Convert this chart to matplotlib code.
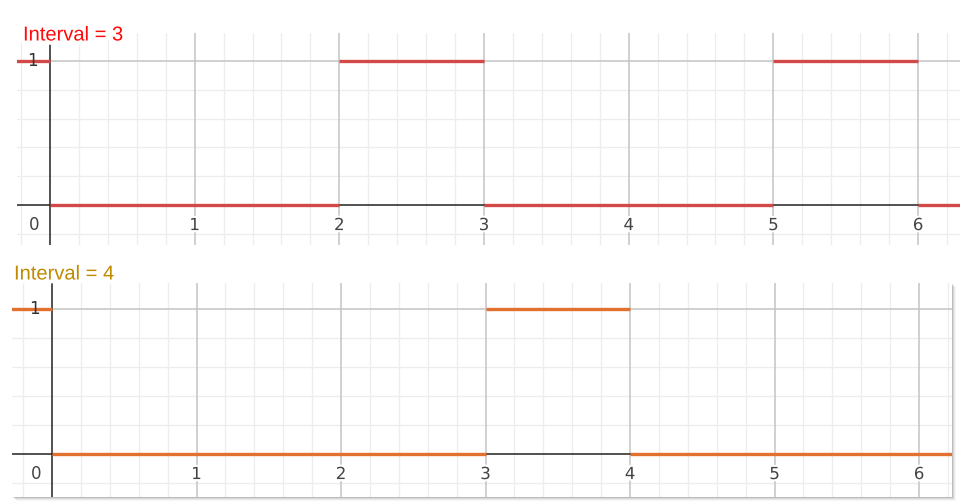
import matplotlib
matplotlib.use("Agg")
import matplotlib.pyplot as plt
import matplotlib.patheffects as pe
from matplotlib.patches import Rectangle
import numpy as np

# Data: step functions (breakpoints and levels)
titles = ["Interval = 3", "Interval = 4"]
top_breaks = [-0.4, 0, 2, 3, 5, 6, 6.6]
top_levels = [1, 0, 1, 0, 1, 0]
bot_breaks = [-0.4, 0, 3, 4, 6.6]
bot_levels = [1, 0, 1, 0]
x_ticks = [1, 2, 3, 4, 5, 6]
y_ticks = [1]

W, H = 960, 503
fig = plt.figure(figsize=(W / 100, H / 100), dpi=100)
fig.patch.set_facecolor("white")

def px_axes(l, t, r, b):
    ax = fig.add_axes([l / W, (H - b) / H, (r - l) / W, (b - t) / H])
    ax.set_zorder(2)
    return ax

def setup(ax, xlim, ylim):
    ax.set_xlim(*xlim)
    ax.set_ylim(*ylim)
    for s in ax.spines.values():
        s.set_visible(False)
    ax.set_xticks([])
    ax.set_yticks([])
    # minor grid
    for v in np.arange(np.floor(xlim[0] / 0.2) * 0.2, xlim[1], 0.2):
        if abs(v - round(v)) > 1e-6:
            ax.axvline(v, color="#ededed", lw=0.9, zorder=0)
    for v in np.arange(np.floor(ylim[0] / 0.2) * 0.2, ylim[1], 0.2):
        if abs(v - round(v)) > 1e-6:
            ax.axhline(v, color="#ededed", lw=0.9, zorder=0)
    # major grid
    for v in range(int(np.ceil(xlim[0])), int(np.floor(xlim[1])) + 1):
        if v != 0:
            ax.axvline(v, color="#c4c4c4", lw=1.1, zorder=1)
    for v in range(int(np.ceil(ylim[0])), int(np.floor(ylim[1])) + 1):
        if v != 0:
            ax.axhline(v, color="#c4c4c4", lw=1.1, zorder=1)
    # axes
    ax.axvline(0, color="#222222", lw=1.1, zorder=2)
    ax.axhline(0, color="#222222", lw=1.1, zorder=2)
    # labels
    fs = 12
    halo = [pe.withStroke(linewidth=3, foreground="white")]
    for t in x_ticks:
        ax.annotate(str(t), (t, 0), xytext=(0, -8), textcoords="offset points",
                    ha="center", va="top", fontsize=fs, color="#444444",
                    family="DejaVu Sans", path_effects=halo, zorder=6)
    ax.annotate("0", (0, 0), xytext=(-8, -8), textcoords="offset points",
                ha="right", va="top", fontsize=fs, color="#444444",
                family="DejaVu Sans", zorder=6)
    for t in y_ticks:
        ax.annotate(str(t), (0, t), xytext=(-9, 0), textcoords="offset points",
                    ha="right", va="center", fontsize=fs, color="#333333",
                    family="DejaVu Sans", zorder=6)

# Top panel
ax1 = px_axes(17, 33, 960, 245)
setup(ax1, (-0.228, 6.29), (-0.278, 1.194))
ax1.hlines(top_levels, top_breaks[:-1], top_breaks[1:], color="#d24a47", lw=2.4, zorder=4)

# Bottom panel with shadow
for i, a in enumerate([0.12, 0.08, 0.05, 0.03]):
    d = i + 1
    fig.patches.append(Rectangle(((12 + d) / W, (H - 497 - d) / H), 940 / W, 214 / H,
                                 transform=fig.transFigure, facecolor="black",
                                 alpha=a, edgecolor="none", zorder=0))
ax2 = px_axes(12, 283, 952, 497)
ax2.set_facecolor("white")
setup(ax2, (-0.277, 6.228), (-0.297, 1.179))
ax2.hlines(bot_levels, bot_breaks[:-1], bot_breaks[1:], color="#e2702f", lw=2.4, zorder=4)

# Titles
glow = [pe.withSimplePatchShadow(offset=(1.5, -1.5), shadow_rgbFace="#666666", alpha=0.4),
        pe.withStroke(linewidth=6, foreground="white")]
t1 = fig.text(23 / W, 1 - 35 / H, titles[0], color="#ff0a0a", fontsize=14.5,
              family="Liberation Sans", ha="left", va="center", path_effects=glow)
t2 = fig.text(14 / W, 1 - 274 / H, titles[1], color="#c08a00", fontsize=14.5,
              family="Liberation Sans", ha="left", va="center", path_effects=glow)
t1.set_zorder(10)
t2.set_zorder(10)

fig.savefig("out.png", dpi=100, facecolor="white")
